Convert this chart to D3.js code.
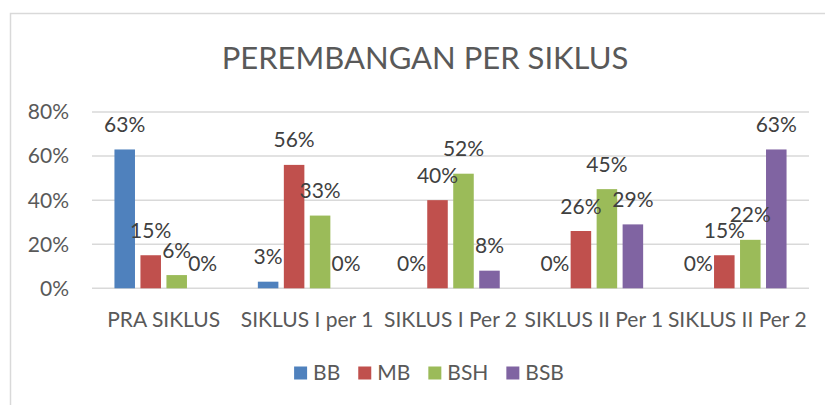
<!DOCTYPE html>
<meta charset="utf-8">
<script src="https://d3js.org/d3.v7.min.js"></script>
<style>
  body { margin: 0; background: #fff; }
  text { font-family: Lato, "Open Sans", sans-serif; }
</style>
<body>
  <div id="my_dataviz"></div>
  <script>

    // Data
    var categories = ["PRA SIKLUS", "SIKLUS I per 1", "SIKLUS I Per 2", "SIKLUS II Per 1", "SIKLUS II Per 2"];
    var seriesNames = ["BB", "MB", "BSH", "BSB"];
    var BB  = [63, 3, 0, 0, 0];
    var MB  = [15, 56, 40, 26, 15];
    var BSH = [6, 33, 52, 45, 22];
    var BSB = [0, 0, 8, 29, 63];
    var yTicks = [0, 20, 40, 60, 80];
    var title = "PEREMBANGAN PER SIKLUS";

    var colors = ["#4f81bd", "#c0504d", "#9bbb59", "#8064a2"];
    var seriesValues = [BB, MB, BSH, BSB];

    var W = 825, H = 405;
    var margin = {top: 112, right: 16, bottom: 116.7, left: 92};

    var svg = d3.select("#my_dataviz")
      .append("svg")
        .attr("width", W)
        .attr("height", H);

    // chart border (runs off the right and bottom of the picture)
    svg.append("rect")
      .attr("x", 10.5).attr("y", 13.5)
      .attr("width", 840).attr("height", 430)
      .attr("fill", "none")
      .attr("stroke", "#d9d9d9")
      .attr("stroke-width", 1.5);

    // title
    svg.append("text")
      .attr("x", 425).attr("y", 68.5)
      .attr("text-anchor", "middle")
      .attr("font-size", 31)
      .attr("fill", "#595959")
      .text(title);

    var x0 = d3.scaleBand()
      .domain(categories)
      .range([margin.left, W - margin.right])
      .paddingInner(0).paddingOuter(0);

    var groupW = 98.5;
    var x1 = d3.scaleBand()
      .domain(seriesNames)
      .range([0, groupW])
      .paddingInner(0.21).paddingOuter(0);

    var y = d3.scaleLinear()
      .domain([0, 80])
      .range([H - margin.bottom, margin.top]);

    // gridlines
    svg.append("g")
      .selectAll("line")
      .data(yTicks)
      .enter()
      .append("line")
        .attr("x1", margin.left)
        .attr("x2", W - margin.right)
        .attr("y1", function(d) { return y(d); })
        .attr("y2", function(d) { return y(d); })
        .attr("stroke", "#d9d9d9")
        .attr("stroke-width", 1.5);

    // y axis labels
    svg.append("g")
      .selectAll("text")
      .data(yTicks)
      .enter()
      .append("text")
        .attr("x", 69)
        .attr("y", function(d) { return y(d); })
        .attr("dy", "0.35em")
        .attr("text-anchor", "end")
        .attr("font-size", 21)
        .attr("fill", "#595959")
        .text(function(d) { return d + "%"; });

    // x axis labels
    svg.append("g")
      .selectAll("text")
      .data(categories)
      .enter()
      .append("text")
        .attr("x", function(d) { return x0(d) + x0.bandwidth() / 2; })
        .attr("y", 327)
        .attr("text-anchor", "middle")
        .attr("font-size", 21)
        .attr("fill", "#595959")
        .text(function(d) { return d; });

    // flatten to one record per bar
    var bars = [];
    categories.forEach(function(c, i) {
      seriesNames.forEach(function(s, j) {
        bars.push({cat: c, series: s, value: seriesValues[j][i], color: colors[j]});
      });
    });

    function barX(d) {
      return x0(d.cat) + (x0.bandwidth() - groupW) / 2 + x1(d.series);
    }

    svg.append("g")
      .selectAll("rect")
      .data(bars)
      .enter()
      .append("rect")
        .attr("x", barX)
        .attr("y", function(d) { return y(d.value); })
        .attr("width", x1.bandwidth())
        .attr("height", function(d) { return y(0) - y(d.value); })
        .attr("fill", function(d) { return d.color; });

    // data labels
    svg.append("g")
      .selectAll("text")
      .data(bars)
      .enter()
      .append("text")
        .attr("x", function(d) { return barX(d) + x1.bandwidth() / 2; })
        .attr("y", function(d) { return y(d.value) - 17.5; })
        .attr("text-anchor", "middle")
        .attr("font-size", 21)
        .attr("fill", "#404040")
        .text(function(d) { return d.value + "%"; });

    // legend
    var legend = svg.append("g");
    var items = legend.selectAll("g")
      .data(seriesNames)
      .enter()
      .append("g");

    items.append("rect")
      .attr("width", 13).attr("height", 13)
      .attr("y", 366.5)
      .attr("fill", function(d, i) { return colors[i]; });

    items.append("text")
      .attr("x", 19)
      .attr("y", 380)
      .attr("font-size", 21)
      .attr("fill", "#595959")
      .text(function(d) { return d; });

    var pos = 0, offsets = [];
    items.each(function() {
      offsets.push(pos);
      pos += 19 + d3.select(this).select("text").node().getComputedTextLength() + 18;
    });
    var total = pos - 18;
    var startX = 429 - total / 2;
    items.attr("transform", function(d, i) { return "translate(" + (startX + offsets[i]) + ",0)"; });

  </script>
</body>
